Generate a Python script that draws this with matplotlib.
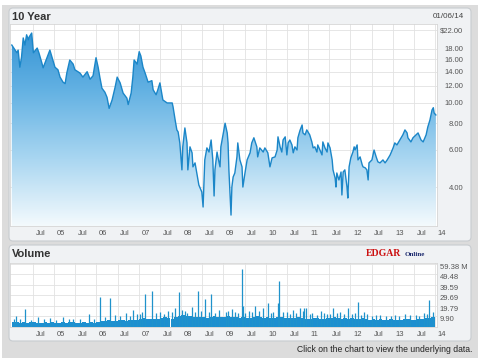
import numpy as np
import matplotlib.pyplot as plt
from matplotlib.patches import FancyBboxPatch, Rectangle
from matplotlib.colors import LinearSegmentedColormap
import matplotlib.transforms as mtrans

plt.rcParams['font.family'] = ['Liberation Sans', 'DejaVu Sans']

# closing price, decimal year
price_dates = [
    2004.00, 2004.08, 2004.12, 2004.15, 2004.19, 2004.23, 2004.27, 2004.31, 2004.35, 2004.39,
    2004.41, 2004.47, 2004.51, 2004.60, 2004.64, 2004.71, 2004.74, 2004.81, 2004.90, 2004.95,
    2005.02, 2005.09, 2005.14, 2005.21, 2005.26, 2005.30, 2005.37, 2005.45, 2005.49, 2005.61,
    2005.68, 2005.78, 2005.85, 2005.92, 2005.99, 2006.04, 2006.08, 2006.13, 2006.20, 2006.25,
    2006.30, 2006.37, 2006.44, 2006.49, 2006.56, 2006.63, 2006.72, 2006.75, 2006.82, 2006.86,
    2006.89, 2006.96, 2007.01, 2007.05, 2007.10, 2007.15, 2007.22, 2007.31, 2007.34, 2007.41,
    2007.45, 2007.50, 2007.57, 2007.67, 2007.79, 2007.81, 2007.86, 2007.90, 2007.93, 2007.97,
    2008.02, 2008.04, 2008.09, 2008.14, 2008.16, 2008.21, 2008.26, 2008.28, 2008.33, 2008.38,
    2008.42, 2008.49, 2008.52, 2008.56, 2008.61, 2008.66, 2008.71, 2008.75, 2008.78, 2008.80,
    2008.85, 2008.87, 2008.92, 2008.94, 2008.99, 2009.04, 2009.09, 2009.11, 2009.13, 2009.18,
    2009.20, 2009.23, 2009.27, 2009.32, 2009.34, 2009.39, 2009.44, 2009.46, 2009.51, 2009.56,
    2009.63, 2009.67, 2009.72, 2009.79, 2009.81, 2009.86, 2009.94, 2009.98, 2010.05, 2010.10,
    2010.15, 2010.22, 2010.27, 2010.29, 2010.34, 2010.38, 2010.41, 2010.46, 2010.50, 2010.53,
    2010.57, 2010.62, 2010.65, 2010.69, 2010.74, 2010.76, 2010.81, 2010.86, 2010.88, 2010.93,
    2010.97, 2011.04, 2011.09, 2011.12, 2011.16, 2011.21, 2011.23, 2011.28, 2011.33, 2011.35,
    2011.40, 2011.45, 2011.47, 2011.52, 2011.57, 2011.59, 2011.64, 2011.66, 2011.68, 2011.73,
    2011.78, 2011.80, 2011.83, 2011.87, 2011.92, 2011.94, 2011.97, 2012.01, 2012.06, 2012.09,
    2012.11, 2012.16, 2012.18, 2012.23, 2012.28, 2012.30, 2012.35, 2012.39, 2012.42, 2012.44,
    2012.51, 2012.56, 2012.61, 2012.65, 2012.70, 2012.77, 2012.82, 2012.87, 2012.94, 2013.01,
    2013.05, 2013.10, 2013.17, 2013.24, 2013.29, 2013.34, 2013.36, 2013.43, 2013.48, 2013.55,
    2013.60, 2013.67, 2013.72, 2013.79, 2013.83, 2013.88, 2013.93, 2013.96, 2013.98, 2014.02,
]
price_close = [
    18.7, 17.7, 17.2, 17.7, 14.7, 16.4, 20.2, 18.7, 20.9, 19.8,
    20.4, 21.3, 17.2, 18.1, 17.2, 15.4, 14.6, 15.9, 17.7, 16.4,
    14.7, 14.3, 13.2, 12.5, 12.3, 13.8, 15.9, 15.2, 14.3, 13.8,
    13.2, 14.0, 12.9, 13.4, 16.3, 14.7, 13.2, 11.7, 11.2, 10.6,
    9.4, 10.3, 11.8, 13.2, 12.4, 11.1, 10.5, 9.8, 11.1, 13.2,
    15.9, 15.2, 17.4, 16.6, 14.7, 13.8, 12.5, 12.7, 11.5, 10.9,
    11.5, 12.4, 10.3, 9.97, 9.97, 9.57, 8.28, 7.44, 7.28, 6.46,
    4.82, 6.19, 7.6, 6.46, 4.82, 6.19, 5.8, 4.98, 5.2, 4.56,
    4.09, 3.79, 3.22, 5.37, 6.12, 5.85, 6.67, 5.37, 3.63, 4.82,
    5.85, 5.55, 4.98, 6.19, 7.05, 8.0, 7.2, 6.46, 4.82, 2.95,
    4.0, 4.46, 4.66, 5.55, 6.46, 5.37, 4.98, 4.0, 4.66, 5.37,
    5.8, 6.46, 6.83, 6.19, 5.55, 6.12, 5.85, 6.12, 5.8, 4.98,
    5.49, 5.55, 5.98, 6.9, 6.19, 5.85, 6.67, 6.9, 5.67, 6.46,
    6.67, 6.32, 5.8, 6.19, 5.98, 6.83, 7.4, 7.85, 7.2, 7.05,
    7.44, 7.05, 6.53, 6.12, 6.19, 5.85, 6.32, 5.98, 5.67, 6.53,
    6.12, 5.85, 6.46, 6.12, 5.37, 4.82, 4.41, 4.0, 4.66, 4.32,
    4.71, 3.67, 4.71, 4.82, 4.0, 3.55, 4.98, 5.49, 5.85, 6.19,
    5.98, 6.32, 5.37, 5.55, 5.09, 4.98, 4.93, 4.82, 4.32, 5.2,
    5.37, 5.98, 5.55, 5.26, 5.2, 5.37, 5.2, 5.37, 5.67, 6.12,
    6.46, 6.32, 6.67, 7.05, 7.44, 7.2, 6.83, 6.53, 6.83, 7.05,
    7.2, 6.67, 6.53, 7.05, 7.68, 8.28, 9.24, 9.47, 8.94, 8.75,
]

# monthly base volume (millions), Jan 2004 .. Dec 2013
vol_base = [
    4.5, 5.0, 4.2, 4.8, 4.0, 4.6, 4.3, 4.0, 3.8, 4.4, 4.1, 4.6,
    4.2, 3.9, 4.5, 4.0, 4.3, 4.6, 3.8, 4.1, 4.4, 4.0, 4.5, 4.2,
    5.0, 5.5, 5.2, 6.5, 6.0, 5.8, 6.2, 6.8, 6.0, 6.5, 7.0, 6.8,
    7.5, 8.5, 7.8, 7.2, 7.6, 8.0, 8.8, 9.5, 8.2, 8.0, 9.0, 10.0,
    11.0, 10.5, 10.0, 9.5, 9.0, 9.6, 9.0, 8.8, 9.5, 10.5, 9.8, 9.0,
    9.5, 10.2, 9.8, 9.0, 8.6, 9.2, 8.8, 8.4, 9.6, 10.0, 9.4, 8.8,
    9.2, 8.6, 8.8, 9.6, 9.0, 8.5, 8.8, 8.2, 8.6, 9.0, 8.4, 8.0,
    7.8, 8.2, 8.6, 8.0, 7.5, 8.4, 8.8, 9.5, 8.6, 8.0, 8.4, 7.8,
    8.5, 8.0, 7.6, 8.2, 7.4, 7.0, 7.2, 6.8, 7.4, 7.0, 6.6, 7.2,
    6.8, 7.0, 6.5, 7.2, 7.6, 7.0, 6.8, 7.4, 7.8, 8.2, 8.8, 9.0,
]
vol_base_dates = [2004.0 + m / 12 for m in range(len(vol_base))]

# single-day volume spikes
spike_dates = [
    2004.05, 2004.10, 2004.20, 2004.31, 2004.45, 2004.62, 2004.75, 2004.90,
    2005.05, 2005.20, 2005.35, 2005.45, 2005.60, 2005.83, 2005.95,
    2006.08, 2006.20, 2006.32, 2006.45, 2006.55, 2006.70, 2006.80, 2006.87, 2006.95,
    2007.02, 2007.08, 2007.15, 2007.31, 2007.40, 2007.50, 2007.60, 2007.70, 2007.78, 2007.86, 2007.95,
    2008.02, 2008.09, 2008.15, 2008.25, 2008.33, 2008.40, 2008.48, 2008.56, 2008.65, 2008.71, 2008.80, 2008.90,
    2009.05, 2009.12, 2009.20, 2009.28, 2009.34, 2009.44, 2009.46, 2009.52, 2009.60, 2009.68, 2009.75, 2009.85, 2009.94,
    2010.05, 2010.12, 2010.18, 2010.29, 2010.32, 2010.40, 2010.50, 2010.58, 2010.65, 2010.72, 2010.81, 2010.88, 2010.91, 2010.95,
    2011.05, 2011.10, 2011.20, 2011.30, 2011.38, 2011.45, 2011.52, 2011.59, 2011.68, 2011.75, 2011.85, 2011.94,
    2012.05, 2012.10, 2012.18, 2012.25, 2012.33, 2012.40, 2012.50, 2012.60, 2012.70, 2012.85, 2012.95,
    2013.05, 2013.15, 2013.30, 2013.40, 2013.55, 2013.62, 2013.75, 2013.80, 2013.86, 2013.95,
]
spike_vols = [
    8.0, 10.0, 7.5, 17.0, 7.0, 9.0, 7.5, 8.5,
    7.0, 9.0, 7.5, 8.0, 8.0, 12.0, 7.5,
    28.0, 9.0, 27.0, 11.0, 10.0, 13.0, 10.0, 16.0, 12.0,
    12.0, 14.0, 31.0, 34.0, 13.0, 14.0, 12.0, 15.0, 14.0, 18.0, 33.0,
    16.0, 15.0, 13.0, 19.0, 14.0, 34.0, 15.0, 26.0, 14.0, 31.0, 13.0, 16.0,
    14.0, 15.0, 17.0, 14.0, 13.0, 55.0, 20.0, 13.0, 15.0, 14.0, 20.0, 15.0, 18.0,
    23.0, 13.0, 14.0, 23.0, 43.0, 14.0, 14.0, 12.0, 16.0, 13.0, 18.0, 15.0, 18.0, 18.0,
    12.0, 13.0, 11.0, 15.0, 13.0, 12.0, 12.0, 18.0, 13.0, 14.0, 12.0, 18.0,
    12.0, 13.0, 24.0, 11.0, 14.0, 12.0, 10.0, 11.0, 11.0, 10.0, 10.0,
    11.0, 10.0, 12.0, 11.0, 11.0, 10.0, 13.0, 12.0, 25.0, 14.0,
]

x_ticks = [2004.5 + 0.5 * i for i in range(20)]
x_labels = ['Jul', '05', 'Jul', '06', 'Jul', '07', 'Jul', '08', 'Jul', '09',
            'Jul', '10', 'Jul', '11', 'Jul', '12', 'Jul', '13', 'Jul', '14']
price_ticks = [4, 6, 8, 10, 12, 14, 16, 18, 22]
price_labels = ['4.00', '6.00', '8.00', '10.00', '12.00', '14.00', '16.00', '18.00', '$22.00']
vol_ticks = [9.90, 19.79, 29.69, 39.59, 49.48, 59.38]
vol_labels = ['9.90', '19.79', '29.69', '39.59', '49.48', '59.38 M']

W, H = 480, 362
fig = plt.figure(figsize=(W / 100, H / 100), dpi=100, facecolor='white')

# background frame in pixel units
bg = fig.add_axes([0, 0, 1, 1], zorder=-5)
bg.set_xlim(0, W)
bg.set_ylim(H, 0)
bg.axis('off')
bg.add_patch(Rectangle((2, 5), 476, 353, fc='#dcdcdc', ec='none'))
for y0, h in [(8, 233), (245, 96)]:
    bg.add_patch(FancyBboxPatch((9, y0), 462, h, boxstyle='round,pad=0,rounding_size=4',
                                fc='#f0f2f4', ec='#c8ccd0', lw=0.8))
bg.text(12, 17, '10 Year', fontsize=8, fontweight='bold', color='#333333', va='center')
bg.text(464, 17, '01/06/14', fontsize=5.8, color='#444444', va='center', ha='right')
bg.text(12, 254, 'Volume', fontsize=8, fontweight='bold', color='#333333', va='center')
bg.text(366, 254, 'EDGAR', fontsize=7, fontweight='bold', color='#cc1111', va='center',
        family='Liberation Serif')
bg.text(405, 255, 'Online', fontsize=5, fontweight='bold', color='#1c2a6e', va='center',
        family='Liberation Serif')
bg.text(472, 350, 'Click on the chart to view the underlying data.', fontsize=6.2,
        color='#222222', va='center', ha='right')

x0, x1 = 2004 + (10 - 11.8) / 42.32, 2004 + (437 - 11.8) / 42.32
offset = mtrans.ScaledTranslation(2 / 72, 0, fig.dpi_scale_trans)

# price panel
ax = fig.add_axes([10 / W, 1 - 226 / H, 427 / W, 202 / H], facecolor='white')
ax.set_yscale('log')
poly = ax.fill_between(price_dates, price_close, 0.5, color='none', lw=0)
cmap = LinearSegmentedColormap.from_list('fill', ['#f4fafd', '#a9d6f1', '#64b2e3', '#2f90d3'])
grad = np.linspace(0, 1, 256).reshape(-1, 1)
img = ax.imshow(grad, extent=[0, 1, 0, 1], transform=ax.transAxes, aspect='auto',
                cmap=cmap, origin='lower', zorder=1)
img.set_clip_path(poly.get_paths()[0], transform=ax.transData)
ax.plot(price_dates, price_close, color='#1b86c8', lw=1.0, zorder=2)
ax.set_xlim(x0, x1)
ax.set_ylim(2.62, 23.5)
ax.set_yticks(price_ticks)
ax.set_yticklabels(price_labels)
ax.yaxis.set_minor_locator(plt.NullLocator())
ax.yaxis.tick_right()
ax.tick_params(axis='y', length=0, pad=19, labelsize=5.5, labelcolor='#555555')
for t in ax.get_yticklabels():
    t.set_horizontalalignment('right')
ax.set_xticks(x_ticks)
ax.set_xticklabels(x_labels)
ax.tick_params(axis='x', length=0, pad=3, labelsize=5.5, labelcolor='#555555')
for t in ax.get_xticklabels():
    t.set_horizontalalignment('left')
    t.set_transform(t.get_transform() + offset)
ax.grid(True, color='#e2e2e2', lw=0.6)
ax.set_axisbelow(True)
for s in ax.spines.values():
    s.set_color('#d6d6d6')
    s.set_linewidth(0.6)

# volume panel
av = fig.add_axes([10 / W, 1 - 327 / H, 427 / W, 64 / H], facecolor='white')
av.bar(vol_base_dates, vol_base, width=1 / 12, align='edge', color='#1d8fd0', lw=0, zorder=2)
av.vlines(spike_dates, 0, spike_vols, color='#1f92cb', lw=0.9, zorder=2)
av.set_xlim(x0, x1)
av.set_ylim(0, 60.3)
av.set_yticks(vol_ticks)
av.set_yticklabels(vol_labels)
av.yaxis.tick_right()
av.tick_params(axis='y', length=0, pad=2, labelsize=5.5, labelcolor='#555555')
for t in av.get_yticklabels():
    t.set_verticalalignment('top')
av.set_xticks(x_ticks)
av.set_xticklabels(x_labels)
av.tick_params(axis='x', length=0, pad=3, labelsize=5.5, labelcolor='#555555')
for t in av.get_xticklabels():
    t.set_horizontalalignment('left')
    t.set_transform(t.get_transform() + offset)
av.grid(True, color='#e2e2e2', lw=0.6)
av.set_axisbelow(True)
for s in av.spines.values():
    s.set_color('#d6d6d6')
    s.set_linewidth(0.6)

fig.savefig('out.png', dpi=100, facecolor=fig.get_facecolor())
